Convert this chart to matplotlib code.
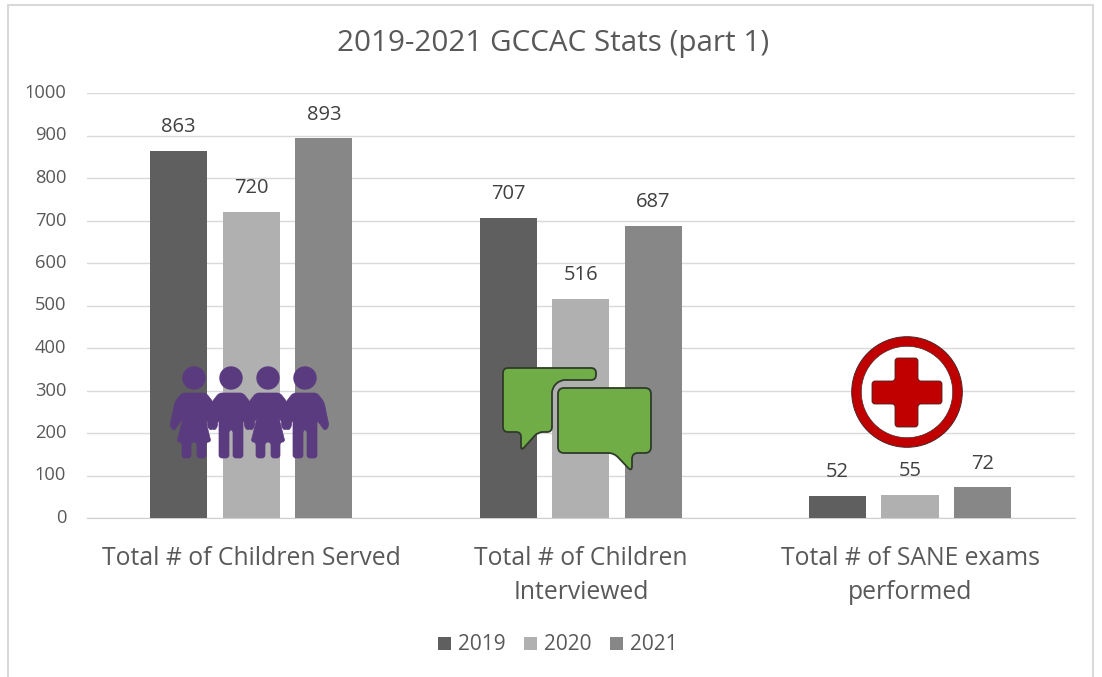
import numpy as np
import matplotlib
matplotlib.use('Agg')
import matplotlib.pyplot as plt
from matplotlib.patches import Circle, PathPatch
from matplotlib.path import Path

plt.rcParams['font.family'] = ['Open Sans', 'DejaVu Sans']

categories = ['Total # of Children Served', 'Total # of Children\nInterviewed',
              'Total # of SANE exams\nperformed']
years = ['2019', '2020', '2021']
values_2019 = [863, 707, 52]
values_2020 = [720, 516, 55]
values_2021 = [893, 687, 72]
yticks = [0, 100, 200, 300, 400, 500, 600, 700, 800, 900, 1000]

colors = ['#5f5f5f', '#b0b0b0', '#878787']
text_color = '#595959'
W, H = 1102, 677

fig = plt.figure(figsize=(W / 100, H / 100), dpi=100, facecolor='white')
ax = fig.add_axes([87 / W, 1 - 518 / H, (1075 - 87) / W, (518 - 93) / H])

x = np.arange(len(categories))
step = 72.5 / 329
width = 57 / 329
for i, vals in enumerate([values_2019, values_2020, values_2021]):
    bars = ax.bar(x + (i - 1) * step - 0.001, vals, width, color=colors[i], label=years[i], zorder=3)
    ax.bar_label(bars, padding=10, fontsize=14.5, color='#404040')

ax.set_xlim(-0.5, 2.5)
ax.set_ylim(0, 1000)
ax.set_yticks(yticks)
ax.set_xticks(x)
ax.set_xticklabels(categories, fontsize=17.8, color=text_color, linespacing=1.46)
ax.tick_params(axis='both', length=0)
ax.tick_params(axis='y', labelsize=13.2, labelcolor=text_color, pad=15)
ax.tick_params(axis='x', pad=20)
for lab in ax.get_yticklabels():
    lab.set_verticalalignment('center')
ax.grid(axis='y', color='#d9d9d9', lw=1, zorder=0)
ax.set_axisbelow(True)
for s in ['top', 'left', 'right']:
    ax.spines[s].set_visible(False)
ax.spines['bottom'].set_color('#d0d0d0')

fig.text(553 / W, 1 - 44 / H, '2019-2021 GCCAC Stats (part 1)', ha='center', va='center',
         fontsize=21.3, color=text_color)

ax.legend(loc='center', bbox_to_anchor=(558 / W, 1 - 645 / H), bbox_transform=fig.transFigure,
          ncol=3, frameon=False, fontsize=15, labelcolor=text_color, handlelength=0.6,
          handleheight=0.6, handletextpad=0.35, columnspacing=0.9)

# overlay in pixel coordinates for the frame and clip art
ov = fig.add_axes([0, 0, 1, 1], zorder=5)
ov.set_xlim(0, W)
ov.set_ylim(H, 0)
ov.axis('off')
ov.plot([8, 8, 1093, 1093], [H, 5, 5, H], color='#d9d9d9', lw=1.5)


def blob(points, color, edge=None, lw=0.5, r=4, z=6):
    # polygon with rounded corners
    pts = np.array(points, dtype=float)
    n = len(pts)
    verts, codes = [], []
    for i in range(n):
        p, prev, nxt = pts[i], pts[i - 1], pts[(i + 1) % n]
        a = p + (prev - p) * min(r / np.linalg.norm(prev - p), 0.5)
        b = p + (nxt - p) * min(r / np.linalg.norm(nxt - p), 0.5)
        verts += [a, p, b]
        codes += [Path.MOVETO if i == 0 else Path.LINETO, Path.CURVE3, Path.CURVE3]
    verts.append(verts[0])
    codes.append(Path.CLOSEPOLY)
    ov.add_patch(PathPatch(Path(verts, codes), facecolor=color, edgecolor=edge or color, lw=lw, zorder=z))


purple = '#5a3b80'


def person(cx, girl):
    ov.add_patch(Circle((cx, 378), 11, color=purple, zorder=6))
    if girl:
        blob([(cx - 12, 393), (cx + 12, 393), (cx + 19, 402), (cx + 24, 426), (cx + 20, 431),
              (cx + 11, 418), (cx + 17, 442), (cx + 12, 442), (cx + 12, 458), (cx + 3, 458),
              (cx + 3, 442), (cx - 3, 442), (cx - 3, 458), (cx - 12, 458), (cx - 12, 442),
              (cx - 17, 442), (cx - 11, 418), (cx - 20, 431), (cx - 24, 426), (cx - 19, 402)],
             purple, r=3)
    else:
        blob([(cx - 12, 393), (cx + 12, 393), (cx + 19, 402), (cx + 24, 426), (cx + 20, 431),
              (cx + 12, 420), (cx + 12, 458), (cx + 2, 458), (cx + 2, 430), (cx - 2, 430),
              (cx - 2, 458), (cx - 12, 458), (cx - 12, 420), (cx - 20, 431), (cx - 24, 426),
              (cx - 19, 402)], purple, r=3)


person(194, True)
person(231, False)
person(268, True)
person(305, False)

green = '#70ad47'
blob([(503, 368), (596, 368), (596, 380), (560, 380), (552, 388), (552, 432),
      (538, 432), (521, 451), (521, 432), (503, 432)], green, '#2f3b2a', 1.3, r=5)
blob([(558, 388), (651, 388), (651, 453), (632, 453), (632, 472),
      (614, 453), (558, 453)], green, '#2f3b2a', 1.3, r=6)

red = '#c00000'
dark = '#4a2020'
ov.add_patch(Circle((907, 392), 50.5, facecolor='white', edgecolor=red, lw=6.8, zorder=6))
ov.add_patch(Circle((907, 392), 55.3, fill=False, edgecolor=dark, lw=0.7, zorder=6))
ov.add_patch(Circle((907, 392), 45.7, fill=False, edgecolor=dark, lw=0.5, zorder=6))
blob([(895, 358), (918, 358), (918, 381), (942, 381), (942, 404), (918, 404), (918, 427),
      (895, 427), (895, 404), (872, 404), (872, 381), (895, 381)], red, dark, 0.6, r=3, z=7)

fig.savefig('out.png', dpi=100)
